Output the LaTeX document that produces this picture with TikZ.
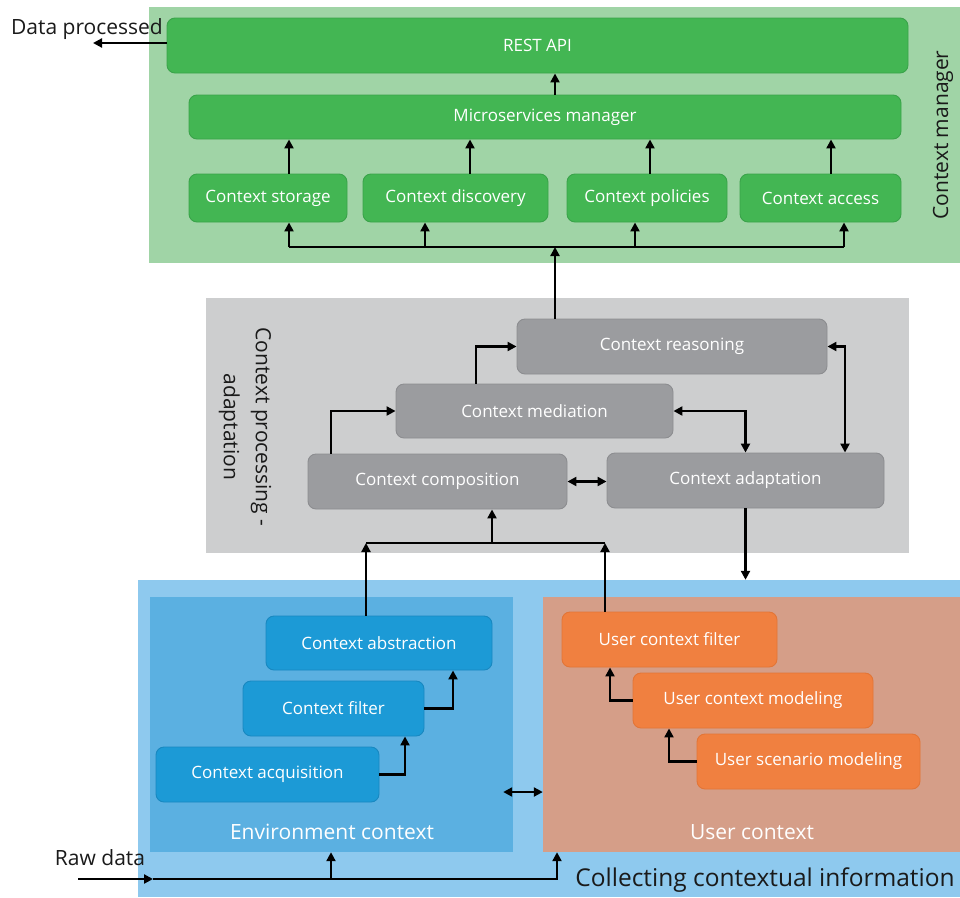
\documentclass[tikz,border=0pt]{standalone}
\usepackage{fontspec}
\setmainfont{Open Sans}
\usetikzlibrary{arrows.meta,calc}
\definecolor{gpanel}{HTML}{A0D4A6}
\definecolor{gfill}{HTML}{43B653}
\definecolor{gdraw}{HTML}{3AA34A}
\definecolor{graypanel}{HTML}{CDCECF}
\definecolor{grfill}{HTML}{9B9C9F}
\definecolor{grdraw}{HTML}{8C8D90}
\definecolor{outerblue}{HTML}{8EC9EE}
\definecolor{envblue}{HTML}{5BB0E1}
\definecolor{bfill}{HTML}{1C9AD6}
\definecolor{bdraw}{HTML}{1888C0}
\definecolor{userpanel}{HTML}{D59E88}
\definecolor{ofill}{HTML}{F08040}
\definecolor{odraw}{HTML}{E37536}
\definecolor{ink}{HTML}{1A1A1A}
\begin{document}
\begin{tikzpicture}[x=1pt,y=-1pt,
  arr/.style={-{Triangle[length=9pt,width=9pt]}, line width=2.2pt, draw=black},
  darr/.style={{Triangle[length=9pt,width=9pt]}-{Triangle[length=9pt,width=9pt]}, line width=2.2pt, draw=black},
  bus/.style={line width=2.2pt, draw=black},
  panel/.style={inner sep=0pt, draw=none},
  box/.style={rounded corners=8pt, draw, line width=0.9pt, inner sep=0pt, text=white, font=\fontsize{17}{20}\selectfont},
  gbox/.style={box, fill=gfill, draw=gdraw},
  grbox/.style={box, fill=grfill, draw=grdraw},
  bbox/.style={box, fill=bfill, draw=bdraw},
  obox/.style={box, fill=ofill, draw=odraw},
  lbl/.style={inner sep=0pt, text=ink},
]
\useasboundingbox (0,0) rectangle (960,897);
\fill[white] (0,0) rectangle (960,897);

% panels
\node[panel, fill=gpanel, minimum width=811pt, minimum height=256pt] (gp) at (554.5,135) {};
\node[panel, fill=graypanel, minimum width=703pt, minimum height=255pt] (grp) at (557.5,425.5) {};
\node[panel, fill=outerblue, minimum width=822pt, minimum height=317pt] (outer) at (549,738.5) {};
\node[panel, fill=envblue, minimum width=363pt, minimum height=255pt] (env) at (331.5,724.5) {};
\node[panel, fill=userpanel, minimum width=417pt, minimum height=255pt] (user) at (751.5,724.5) {};

% green boxes
\node[gbox, minimum width=741pt, minimum height=55pt] (rest) at (537.5,45.5) {REST API};
\node[gbox, minimum width=712pt, minimum height=44pt] (micro) at (545,117) {Microservices manager};
\node[gbox, minimum width=158pt, minimum height=48pt] (storage) at (268,198) {Context storage};
\node[gbox, minimum width=185pt, minimum height=48pt] (discovery) at (455.5,198) {Context discovery};
\node[gbox, minimum width=160pt, minimum height=48pt] (policies) at (647,198) {Context policies};
\node[gbox, minimum width=161pt, minimum height=48pt] (access) at (820.5,198) {Context access};

% gray boxes
\node[grbox, minimum width=310pt, minimum height=55pt] (reasoning) at (672,346.5) {Context reasoning};
\node[grbox, minimum width=277pt, minimum height=54pt] (mediation) at (534.5,411) {Context mediation};
\node[grbox, minimum width=259pt, minimum height=55pt] (composition) at (437.5,481.5) {Context composition};
\node[grbox, minimum width=277pt, minimum height=55pt] (adaptation) at (745.5,480.5) {Context adaptation};

% blue boxes
\node[bbox, minimum width=226pt, minimum height=54pt] (abstraction) at (379,643) {Context abstraction};
\node[bbox, minimum width=181pt, minimum height=55pt] (filter) at (333.5,708.5) {Context filter};
\node[bbox, minimum width=223pt, minimum height=55pt] (acquisition) at (267.5,774.5) {Context acquisition};

% orange boxes
\node[obox, minimum width=215pt, minimum height=55pt] (ufilter) at (669.5,639.5) {User context filter};
\node[obox, minimum width=240pt, minimum height=55pt] (umodel) at (753,700.5) {User context modeling};
\node[obox, minimum width=223pt, minimum height=55pt] (uscen) at (808.5,761.5) {User scenario modeling};

% labels
\node[lbl, rotate=90, font=\fontsize{21}{24}\selectfont] (cmlabel) at (943,135) {Context manager};
\node[lbl, rotate=-90, align=center, font=\fontsize{21}{32}\selectfont] (cplabel) at (245,427) {Context processing -\\adaptation};
\node[lbl, text=white, font=\fontsize{21}{24}\selectfont] (envlabel) at (332,832) {Environment context};
\node[lbl, text=white, font=\fontsize{21}{24}\selectfont] (userlabel) at (752,832) {User context};
\node[lbl, font=\fontsize{24.5}{28}\selectfont] (colllabel) at (765,880) {Collecting contextual information};
\node[lbl, font=\fontsize{21}{24}\selectfont] (dplabel) at (87,29) {Data processed};
\node[lbl, font=\fontsize{21}{24}\selectfont] (rawlabel) at (100,858) {Raw data};

% coordinates
\coordinate (dp) at (93,43);
\coordinate (busL) at (289,247);
\coordinate (busR) at (844,247);
\coordinate (busIn) at (555,247);
\coordinate (b2L) at (366,543);
\coordinate (b2R) at (605,543);
\coordinate (b2M) at (492,543);
\coordinate (rawS) at (78,879);
\coordinate (rawE) at (153,879);
\coordinate (rawEnv) at (331,879);

% green connectors
\draw[arr] (rest.west |- 0,43) -- (dp);
\draw[arr] (micro.north -| 555,0) -- (rest.south -| 555,0);
\draw[arr] (storage.north -| 289,0) -- (micro.south -| 289,0);
\draw[arr] (discovery.north -| 470,0) -- (micro.south -| 470,0);
\draw[arr] (policies.north -| 650,0) -- (micro.south -| 650,0);
\draw[arr] (access.north -| 831,0) -- (micro.south -| 831,0);
\draw[bus] (busL) -- (busR);
\draw[arr] (busL) -- (storage.south -| busL);
\draw[arr] (busL -| 425,0) -- (discovery.south -| 425,0);
\draw[arr] (busL -| 635,0) -- (policies.south -| 635,0);
\draw[arr] (busR) -- (access.south -| busR);
\draw[arr] (reasoning.north -| busIn) -- (busIn);

% gray connectors
\draw[arr] (composition.north -| 331,0) |- (mediation.west);
\draw[arr] (mediation.north -| 476,0) |- (reasoning.west);
\draw[darr] (mediation.east) -| (adaptation.north);
\draw[darr] (reasoning.east) -| (adaptation.north -| 845,0);
\draw[darr] (composition.east) -- (composition.east -| adaptation.west);
\draw[arr] (adaptation.south) -- (adaptation.south |- outer.north);

% bus to composition
\draw[bus] (b2L) -- (b2R);
\draw[arr] (abstraction.north -| b2L) -- (b2L);
\draw[arr] (ufilter.north -| b2R) -- (b2R);
\draw[arr] (b2M) -- (composition.south -| b2M);

% blue connectors
\draw[arr] (acquisition.east) -| (filter.south -| 405,0);
\draw[arr] (filter.east) -| (abstraction.south -| 453,0);
\draw[darr] ($(env.east |- 0,792)+(-10,0)$) -- (user.west |- 0,792);

% orange connectors
\draw[arr] (umodel.west) -| (ufilter.south -| 610,0);
\draw[arr] (uscen.west) -| (umodel.south -| 669,0);

% raw data
\draw[arr] (rawS) -- (rawE);
\draw[arr] (rawE) -| (user.south -| 557,0);
\draw[arr] (rawEnv) -- (env.south -| rawEnv);
\end{tikzpicture}
\end{document}
